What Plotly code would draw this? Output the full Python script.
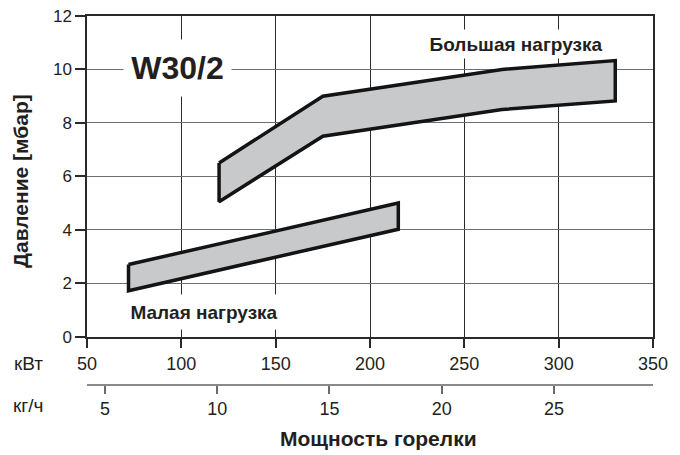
import plotly.graph_objects as go

# ---- data ----
KW_PER_KGH = 11.9  # conversion between burner power (kW) and fuel flow (kg/h)

high_kw = [120, 175, 270, 330]
high_top = [6.5, 9.0, 10.0, 10.33]
high_bottom = [5.05, 7.5, 8.5, 8.82]

low_kw = [72, 215]
low_top = [2.7, 5.0]
low_bottom = [1.72, 4.02]

kw_ticks = [50, 100, 150, 200, 250, 300, 350]
kgh_ticks = [5, 10, 15, 20, 25]
p_ticks = [0, 2, 4, 6, 8, 10, 12]

FONT = "Liberation Sans, Arial, Helvetica, sans-serif"
TXT = "#231f20"
FILL = "#c8c9cb"
EDGE = "#141414"

# page body has an 8px margin; the figure starts at (8, 8) and fills the window
OFF = 8
W, H = 680 - OFF, 455 - OFF
l, t = 87 - OFF, 16 - OFF
r = W - l - 566
b = (H + OFF) - 385


def band(xs, top, bottom):
    px = list(xs) + list(reversed(xs)) + [xs[0]]
    py = list(top) + list(reversed(bottom)) + [top[0]]
    return px, py


fig = go.Figure()
for xs, tp, bt in [(high_kw, high_top, high_bottom), (low_kw, low_top, low_bottom)]:
    px, py = band(xs, tp, bt)
    fig.add_trace(go.Scatter(
        x=px, y=py, mode="lines", fill="toself", fillcolor=FILL,
        line=dict(color=EDGE, width=3.5), hoverinfo="skip", showlegend=False,
    ))

# dummy trace to activate the secondary (kg/h) axis
fig.add_trace(go.Scatter(x=[kgh_ticks[0]], y=[None], xaxis="x2", yaxis="y",
                         mode="markers", showlegend=False, hoverinfo="skip"))

fig.update_layout(
    width=W, height=H,
    margin=dict(l=l, r=r, t=t, b=b),
    paper_bgcolor="white", plot_bgcolor="white",
    font=dict(family=FONT, color=TXT, size=18),
    xaxis=dict(
        range=[kw_ticks[0], kw_ticks[-1]], tickvals=kw_ticks,
        showgrid=True, gridcolor="#2a2a2a", gridwidth=1,
        showline=True, linecolor="#2a2a2a", linewidth=1.5, mirror=True,
        ticks="outside", ticklen=10, tickcolor="#2a2a2a", tickwidth=1.5,
        zeroline=False, anchor="y", tickfont=dict(size=18), automargin=False,
        ticklabeloverflow="allow",
    ),
    xaxis2=dict(
        range=[kw_ticks[0] / KW_PER_KGH, kw_ticks[-1] / KW_PER_KGH],
        tickvals=kgh_ticks, overlaying="x", anchor="free", position=0,
        side="bottom", showgrid=False, zeroline=False,
        showline=True, linecolor="#8a8a8a", linewidth=1.5,
        ticks="outside", ticklen=8, tickcolor="#6a6a6a", tickwidth=1.5,
        tickfont=dict(size=18), automargin=False, ticklabeloverflow="allow",
    ),
    yaxis=dict(
        range=[p_ticks[0], p_ticks[-1]], tickvals=p_ticks, domain=[0.131, 1],
        showgrid=True, gridcolor="#6e6e6e", gridwidth=1,
        showline=True, linecolor="#2a2a2a", linewidth=1.5, mirror=True,
        ticks="outside", ticklen=10, tickcolor="#2a2a2a", tickwidth=1.5,
        zeroline=False, tickfont=dict(size=17), automargin=False,
        ticklabeloverflow="allow",
    ),
    annotations=[
        dict(x=98.1, y=10.05, xref="x", yref="y", text="<b>W30/2</b>",
             showarrow=False, bgcolor="white", width=105, height=54,
             font=dict(size=32, color=TXT)),
        dict(x=277.6, y=10.94, xref="x", yref="y", text="<b>Большая нагрузка</b>",
             showarrow=False, bgcolor="white", width=182, height=26,
             font=dict(size=19, color=TXT)),
        dict(x=111.8, y=0.91, xref="x", yref="y", text="<b>Малая нагрузка</b>",
             showarrow=False, bgcolor="white", width=158, height=32,
             font=dict(size=19, color=TXT)),
        dict(x=28, y=363, xref="paper", yref="paper", text="кВт",
             showarrow=False, font=dict(size=19, color=TXT)),
        dict(x=28, y=405, xref="paper", yref="paper", text="кг/ч",
             showarrow=False, font=dict(size=19, color=TXT)),
        dict(x=378, y=438, xref="paper", yref="paper", text="<b>Мощность горелки</b>",
             showarrow=False, font=dict(size=21, color=TXT)),
        dict(x=20, y=181, xref="paper", yref="paper", text="<b>Давление [мбар]</b>",
             showarrow=False, textangle=-90, font=dict(size=21, color=TXT)),
    ],
)

# convert the window-pixel-placed paper annotations to paper fractions
pw, ph = W - l - r, H - t - b
new = []
for a in fig.layout.annotations:
    if a.xref == "paper":
        a.x = (a.x - OFF - l) / pw
        a.y = (H - b - (a.y - OFF)) / ph
        a.xanchor = "center"
        a.yanchor = "middle"
    new.append(a)
fig.layout.annotations = new

fig.write_html("out.html")
